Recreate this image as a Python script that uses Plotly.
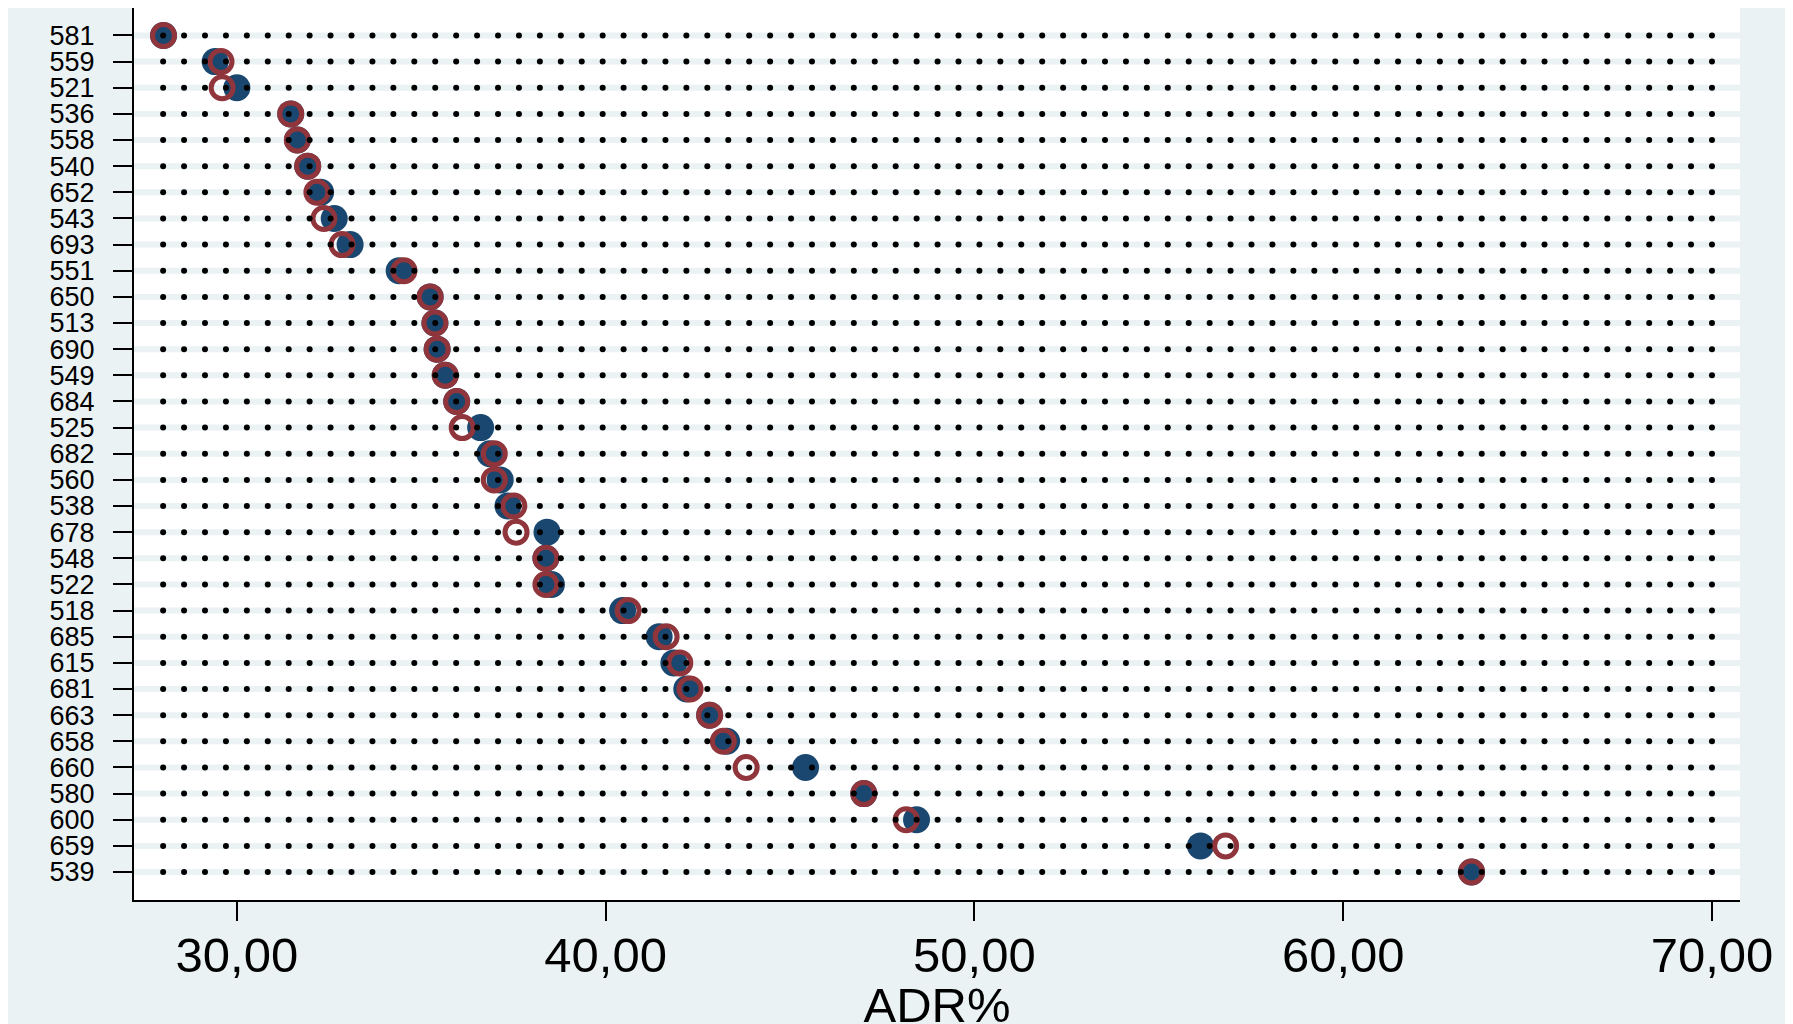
import numpy as np
import plotly.graph_objects as go

# rows, top to bottom
units = ["581", "559", "521", "536", "558", "540", "652", "543", "693", "551",
         "650", "513", "690", "549", "684", "525", "682", "560", "538", "678",
         "548", "522", "518", "685", "615", "681", "663", "658", "660", "580",
         "600", "659", "539"]

# filled navy markers
adr_blue = [28.01, 29.41, 30.00, 31.46, 31.64, 31.92, 32.27, 32.64, 33.07, 34.40,
            35.24, 35.37, 35.43, 35.65, 35.96, 36.61, 36.86, 37.14, 37.35, 38.41,
            38.38, 38.53, 40.46, 41.45, 41.85, 42.20, 42.82, 43.28, 45.42, 47.00,
            48.43, 56.13, 63.48]

# hollow maroon markers
adr_red = [28.01, 29.57, 29.60, 31.46, 31.64, 31.92, 32.17, 32.36, 32.85, 34.53,
           35.24, 35.37, 35.43, 35.65, 35.96, 36.11, 36.98, 36.98, 37.51, 37.57,
           38.38, 38.38, 40.61, 41.64, 42.01, 42.29, 42.82, 43.19, 43.81, 47.00,
           48.15, 56.81, 63.48]

xtick_vals = [30, 40, 50, 60, 70]
xtick_text = ["30,00", "40,00", "50,00", "60,00", "70,00"]

X_RANGE = [27.21, 70.76]
DOT_START, DOT_END, N_DOTS = 28.0, 70.0, 75

BG = "#EAF2F3"
NAVY = "#1A476F"
MAROON = "#90353B"
FONT = "Liberation Sans, Arial, sans-serif"

fig = go.Figure()

# light row guide lines
lx, ly = [], []
for u in units:
    lx += [X_RANGE[0], X_RANGE[1], None]
    ly += [u, u, None]
fig.add_trace(go.Scatter(x=lx, y=ly, mode="lines",
                         line=dict(color=BG, width=6),
                         hoverinfo="skip", showlegend=False))

fig.add_trace(go.Scatter(x=adr_blue, y=units, mode="markers",
                         marker=dict(symbol="circle", size=27, color=NAVY,
                                     line=dict(width=0)),
                         showlegend=False))

fig.add_trace(go.Scatter(x=adr_red, y=units, mode="markers",
                         marker=dict(symbol="circle-open", size=22,
                                     color=MAROON, line=dict(width=5, color=MAROON)),
                         showlegend=False))

# dotted guides drawn on top, Stata style
dots = np.linspace(DOT_START, DOT_END, N_DOTS)
dx = np.tile(dots, len(units))
dy = np.repeat(units, N_DOTS)
fig.add_trace(go.Scatter(x=dx, y=dy, mode="markers",
                         marker=dict(size=6, color="black", line=dict(width=0)),
                         hoverinfo="skip", showlegend=False))

fig.update_layout(
    width=1793, height=1024,
    paper_bgcolor=BG, plot_bgcolor="white",
    margin=dict(l=126, r=61, t=0, b=132),
    font=dict(family=FONT, color="black"),
)

fig.update_xaxes(
    range=X_RANGE, tickvals=xtick_vals, ticktext=xtick_text,
    tickfont=dict(size=49), ticks="outside", ticklen=19, tickwidth=2,
    tickcolor="black", ticklabelstandoff=-8,
    showline=True, linecolor="black", linewidth=2,
    showgrid=False, zeroline=False, automargin=False,
    title=dict(text="ADR%", font=dict(size=49), standoff=0),
)

fig.update_yaxes(
    type="category", categoryorder="array", categoryarray=units,
    tickmode="array", tickvals=units, ticktext=units,
    range=[33.07, -1.05], tickfont=dict(size=27), ticks="outside",
    ticklen=19, tickwidth=2, tickcolor="black", ticklabelstandoff=13,
    showline=True, linecolor="black", linewidth=2,
    showgrid=False, zeroline=False, automargin=False,
)

fig.write_html("out.html")
